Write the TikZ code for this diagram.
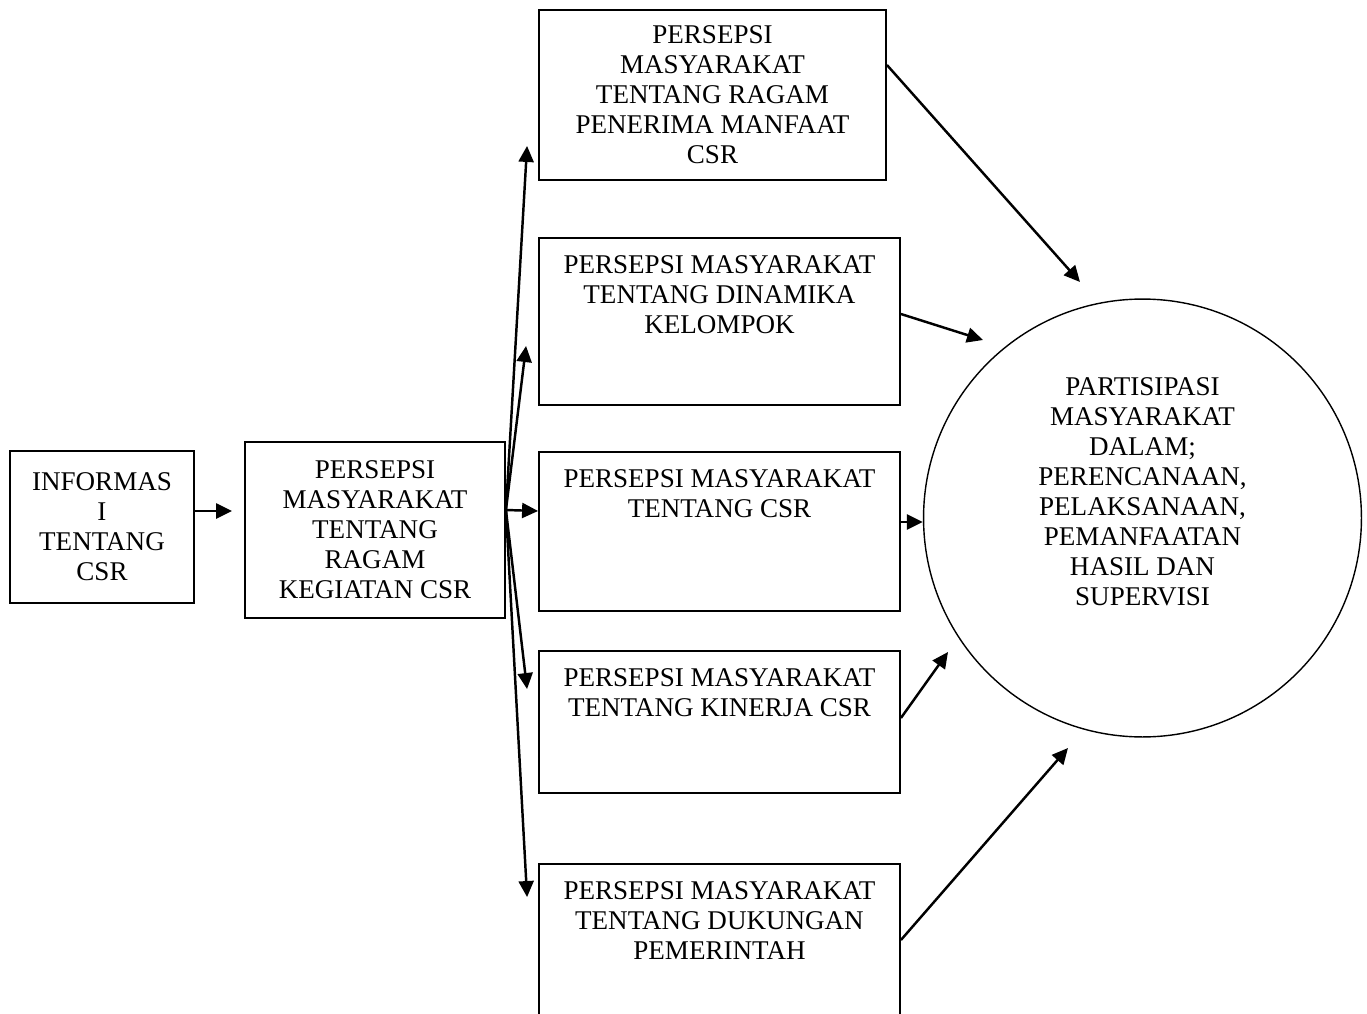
\documentclass[tikz,border=0pt]{standalone}
\usepackage{fontspec}
\setmainfont{Liberation Serif}
\usetikzlibrary{calc,arrows.meta,positioning}

\begin{document}
\begin{tikzpicture}[x=0.02cm,y=-0.02cm,
        kotak/.style={draw,line width=1.1pt,inner sep=0pt,align=center},
        teks/.style={inner sep=0pt,align=center},
        panah/.style={line width=1.4pt,-{Triangle[length=0.32cm,width=0.3cm]}},
        font=\fontsize{15.4}{17.07}\selectfont]
        \useasboundingbox (0,0) rectangle (1367,1014);

        \node[kotak,minimum width=3.68cm,minimum height=3.04cm] (info) at (102,527) {INFORMAS\\I\\TENTANG\\CSR};
        \node[kotak,minimum width=5.2cm,minimum height=3.52cm] (ragam) at (375,530) {PERSEPSI\\MASYARAKAT\\TENTANG\\RAGAM\\KEGIATAN CSR};

        \node[kotak,minimum width=6.94cm,minimum height=3.4cm] (b1) at (712.5,95) {PERSEPSI\\MASYARAKAT\\TENTANG RAGAM\\PENERIMA MANFAAT\\CSR};
        \node[kotak,minimum width=7.22cm,minimum height=3.34cm] (b2) at (719.5,321.5) {};
        \node[teks,anchor=north] (b2t) at ($(b2.north)+(0,18)$) {PERSEPSI MASYARAKAT\\TENTANG DINAMIKA\\KELOMPOK};
        \node[kotak,minimum width=7.22cm,minimum height=3.18cm] (b3) at (719.5,531.5) {};
        \node[teks,anchor=north] (b3t) at ($(b3.north)+(0,18)$) {PERSEPSI MASYARAKAT\\TENTANG CSR};
        \node[kotak,minimum width=7.22cm,minimum height=2.84cm] (b4) at (719.5,722) {};
        \node[teks,anchor=north] (b4t) at ($(b4.north)+(0,18)$) {PERSEPSI MASYARAKAT\\TENTANG KINERJA CSR};
        \node[kotak,minimum width=7.22cm,minimum height=3.12cm] (b5) at (719.5,942) {};
        \node[teks,anchor=north] (b5t) at ($(b5.north)+(0,18)$) {PERSEPSI MASYARAKAT\\TENTANG DUKUNGAN\\PEMERINTAH};

        \node[draw,circle,line width=0.8pt,minimum size=8.76cm,inner sep=0pt] (hasil) at (1142.5,518) {};
        \node[teks] (hasilt) at (1142.5,492) {PARTISIPASI\\MASYARAKAT\\DALAM;\\PERENCANAAN,\\PELAKSANAAN,\\PEMANFAATAN\\HASIL DAN\\SUPERVISI};

        \coordinate (fan) at ($(ragam.east)+(0,-20)$);

        \draw[panah] ($(info.east)+(0,-16)$) -- ($(ragam.west)+(-12,-19)$);
        \draw[panah] (fan) -- ($(b1.south west)+(-11,-35)$);
        \draw[panah] (fan) -- ($(b2.west)+(-12,24.5)$);
        \draw[panah] (fan) -- ($(b3.west)+(0,-20.5)$);
        \draw[panah] (fan) -- ($(b4.north west)+(-11,39)$);
        \draw[panah] (fan) -- ($(b5.north west)+(-11,34)$);

        \draw[panah] ($(b1.east)+(0,-30)$) -- ($(hasil.center)+(-62.5,-236)$);
        \draw[panah] ($(b2.east)+(0,-7.5)$) -- ($(hasil.center)+(-159.5,-178)$);
        \draw[panah] ($(b3.east)+(0,-9.5)$) -- ($(hasil.west)+(0,4)$);
        \draw[panah] ($(b4.east)+(0,-4)$) -- ($(hasil.center)+(-194.5,134)$);
        \draw[panah] ($(b5.east)+(0,-2)$) -- ($(hasil.center)+(-74.5,230)$);
    \end{tikzpicture}
\end{document}
